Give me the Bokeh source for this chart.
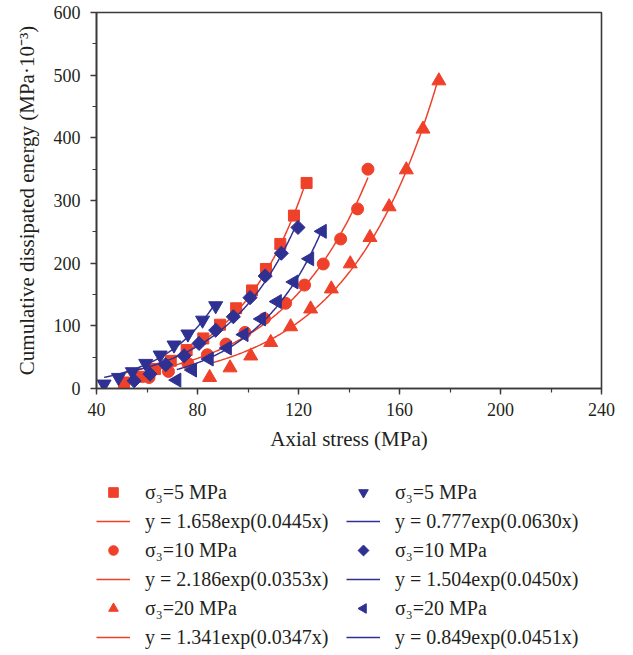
import numpy as np
from bokeh.plotting import figure
from bokeh.layouts import column
from bokeh.models import Range1d, SingleIntervalTicker, Legend, LegendItem
from bokeh.embed import file_html
from bokeh.resources import INLINE

RED = "#EF4129"
BLUE = "#2E3192"
TXT = "#231F20"

# red series (sigma3 = 5, 10, 20 MPa)
red5_x = [50.9, 56.9, 63.2, 69.4, 75.7, 82.3, 88.9, 95.3, 101.6, 107.1, 112.8, 118.2, 123.2]
red5_y = [9.6, 18.7, 31.0, 44.2, 61.3, 79.9, 101.8, 128.0, 156.5, 190.7, 230.7, 275.9, 328.0]
red10_x = [60.8, 68.5, 76.2, 83.9, 91.3, 98.8, 106.5, 114.9, 122.4, 129.8, 136.7, 143.4, 147.5]
red10_y = [17.6, 27.2, 40.0, 53.8, 70.9, 89.5, 111.5, 136.0, 165.0, 198.7, 238.6, 286.6, 350.0]
red20_x = [84.8, 92.9, 101.1, 109.0, 116.9, 124.8, 133.0, 140.5, 148.3, 155.9, 162.7, 169.3, 175.6]
red20_y = [17.6, 33.0, 52.0, 73.5, 98.6, 127.0, 159.0, 199.0, 241.0, 290.0, 349.0, 414.0, 491.0]

# blue series (sigma3 = 5, 10, 20 MPa)
blue5_x = [43.0, 48.7, 54.2, 59.5, 65.2, 70.7, 76.2, 82.0, 87.2]
blue5_y = [7.0, 17.6, 26.7, 40.0, 53.3, 69.3, 86.9, 109.0, 132.0]
blue10_x = [54.9, 61.2, 67.4, 74.7, 80.6, 87.2, 94.2, 100.8, 106.8, 113.2, 119.8]
blue10_y = [12.3, 23.0, 37.9, 52.2, 71.9, 93.0, 114.5, 144.9, 179.5, 215.8, 257.0]
blue20_x = [71.8, 78.0, 84.6, 91.8, 98.4, 105.3, 111.6, 118.2, 124.4, 129.4]
blue20_y = [13.4, 29.4, 47.0, 64.5, 86.0, 111.0, 138.7, 170.0, 207.0, 250.8]

labels_pts = ["σ₃=5 MPa", "σ₃=10 MPa", "σ₃=20 MPa"]
red_fits = ["y = 1.658exp(0.0445x)", "y = 2.186exp(0.0353x)", "y = 1.341exp(0.0347x)"]
blue_fits = ["y = 0.777exp(0.0630x)", "y = 1.504exp(0.0450x)", "y = 0.849exp(0.0451x)"]


def exp_fit(xs, ys, n=200):
    x = np.asarray(xs, float)
    y = np.asarray(ys, float)
    b, la = np.polyfit(x, np.log(y), 1)
    a = np.exp(la)
    for _ in range(50):
        e = np.exp(b * x)
        f = a * e
        r = y - f
        J = np.column_stack([e, a * x * e])
        d, *_ = np.linalg.lstsq(J, r, rcond=None)
        a += d[0]
        b += d[1]
    xx = np.linspace(x.min(), x.max(), n)
    return xx, a * np.exp(b * xx)


W, H = 633, 655
MAIN_H = 465
FL, FR = 96, 32
p = figure(width=W, height=MAIN_H, output_backend="svg", toolbar_location=None,
           x_range=Range1d(40, 240), y_range=Range1d(0, 600),
           min_border_left=FL, min_border_right=FR, min_border_top=12,
           min_border_bottom=MAIN_H - 388)
p.xgrid.visible = False
p.ygrid.visible = False
p.outline_line_color = "#3a3a3a"
p.outline_line_width = 1.6
p.background_fill_color = "white"
p.border_fill_color = "white"

p.xaxis.ticker = SingleIntervalTicker(interval=40, num_minor_ticks=2)
p.yaxis.ticker = SingleIntervalTicker(interval=100, num_minor_ticks=2)
for ax in (p.xaxis[0], p.yaxis[0]):
    ax.axis_line_color = "#3a3a3a"
    ax.axis_line_width = 1.6
    ax.major_tick_line_color = "#3a3a3a"
    ax.minor_tick_line_color = "#3a3a3a"
    ax.major_tick_line_width = 1.4
    ax.minor_tick_line_width = 1.2
    ax.major_tick_out = 6
    ax.major_tick_in = 0
    ax.minor_tick_out = 4
    ax.minor_tick_in = 0
    ax.major_label_text_font = "Liberation Serif"
    ax.major_label_text_font_size = "18px"
    ax.major_label_text_color = TXT
    ax.axis_label_text_font = "Liberation Serif"
    ax.axis_label_text_font_size = "21px"
    ax.axis_label_text_font_style = "normal"
    ax.axis_label_text_color = TXT
p.xaxis.axis_label = "Axial stress (MPa)"
p.yaxis.axis_label = "Cumulative dissipated energy (MPa·10⁻³)"
p.xaxis.major_label_standoff = 8
p.yaxis.major_label_standoff = 10
p.xaxis.axis_label_standoff = 8
p.yaxis.axis_label_standoff = 12

red_series = [(red5_x, red5_y, "square", 11, 0), (red10_x, red10_y, "circle", 12, 0),
              (red20_x, red20_y, "triangle", 14, 0)]
blue_series = [(blue5_x, blue5_y, "inverted_triangle", 14, 0),
               (blue10_x, blue10_y, "square", 10, np.pi / 4),
               (blue20_x, blue20_y, "triangle", 14, np.pi / 2)]

# legend panel below the chart (its frame is aligned with the chart's frame)
LEG_H = H - MAIN_H
FW = W - FL - FR
q = figure(width=W, height=LEG_H, output_backend="svg", toolbar_location=None,
           x_range=Range1d(0, 1), y_range=Range1d(0, 1),
           x_axis_type=None, y_axis_type=None, min_border=0)
q.xgrid.visible = False
q.ygrid.visible = False
q.outline_line_color = None
q.background_fill_color = "white"
q.border_fill_color = "white"

GW, GH, SP, VY = 34, 24, 5, 6
LEG_ROWS = 6
leg_h = LEG_ROWS * GH + (LEG_ROWS - 1) * SP
COLS_VX = [0, 250]

items_cols = [[], []]
for ci, (series, color, fits) in enumerate(((red_series, RED, red_fits),
                                            (blue_series, BLUE, blue_fits))):
    items = items_cols[ci]
    for si, ((xs, ys, mk, sz, ang), lab, ft) in enumerate(zip(series, labels_pts, fits)):
        fx, fy = exp_fit(xs, ys)
        p.line(fx, fy, line_color=color, line_width=1.5)
        p.scatter(xs, ys, marker=mk, size=sz, angle=ang, fill_color=color,
                  line_color=color)
        # proxy glyphs (outside the visible range) for the legend
        lr = q.line(fx, fy, line_color=color, line_width=1.5)
        if ang == 0:
            sr = q.scatter(xs, ys, marker=mk, size=sz, fill_color=color, line_color=color)
        else:
            # rotated markers: legend swatch drawn separately (legends ignore angle)
            sr = q.scatter(xs, ys, marker=mk, size=sz, fill_alpha=0, line_alpha=0)
            row = 2 * si
            top_px = LEG_H - VY - leg_h + GH / 2 + row * (GH + SP)
            sw_y = 1 - top_px / LEG_H
            sw_x = (COLS_VX[ci] + GW / 2) / FW
            sw_size = GH * 0.4 * (0.8 if mk == "square" else 1.0)
            q.scatter([sw_x], [sw_y], marker=mk, size=sw_size, angle=ang,
                      fill_color=color, line_color=color)
        items.append(LegendItem(label=lab, renderers=[sr]))
        items.append(LegendItem(label=ft, renderers=[lr]))

for items, vx in zip(items_cols, COLS_VX):
    lg = Legend(items=items, location=(vx, VY), orientation="vertical",
                border_line_color=None, background_fill_alpha=0, padding=0, margin=0,
                label_text_font="Liberation Serif", label_text_font_size="20px",
                label_text_color=TXT, glyph_width=GW, glyph_height=GH, label_height=GH,
                spacing=SP, label_standoff=15)
    q.add_layout(lg, "center")

open("out.html", "w").write(file_html(column(p, q, spacing=0), INLINE))
